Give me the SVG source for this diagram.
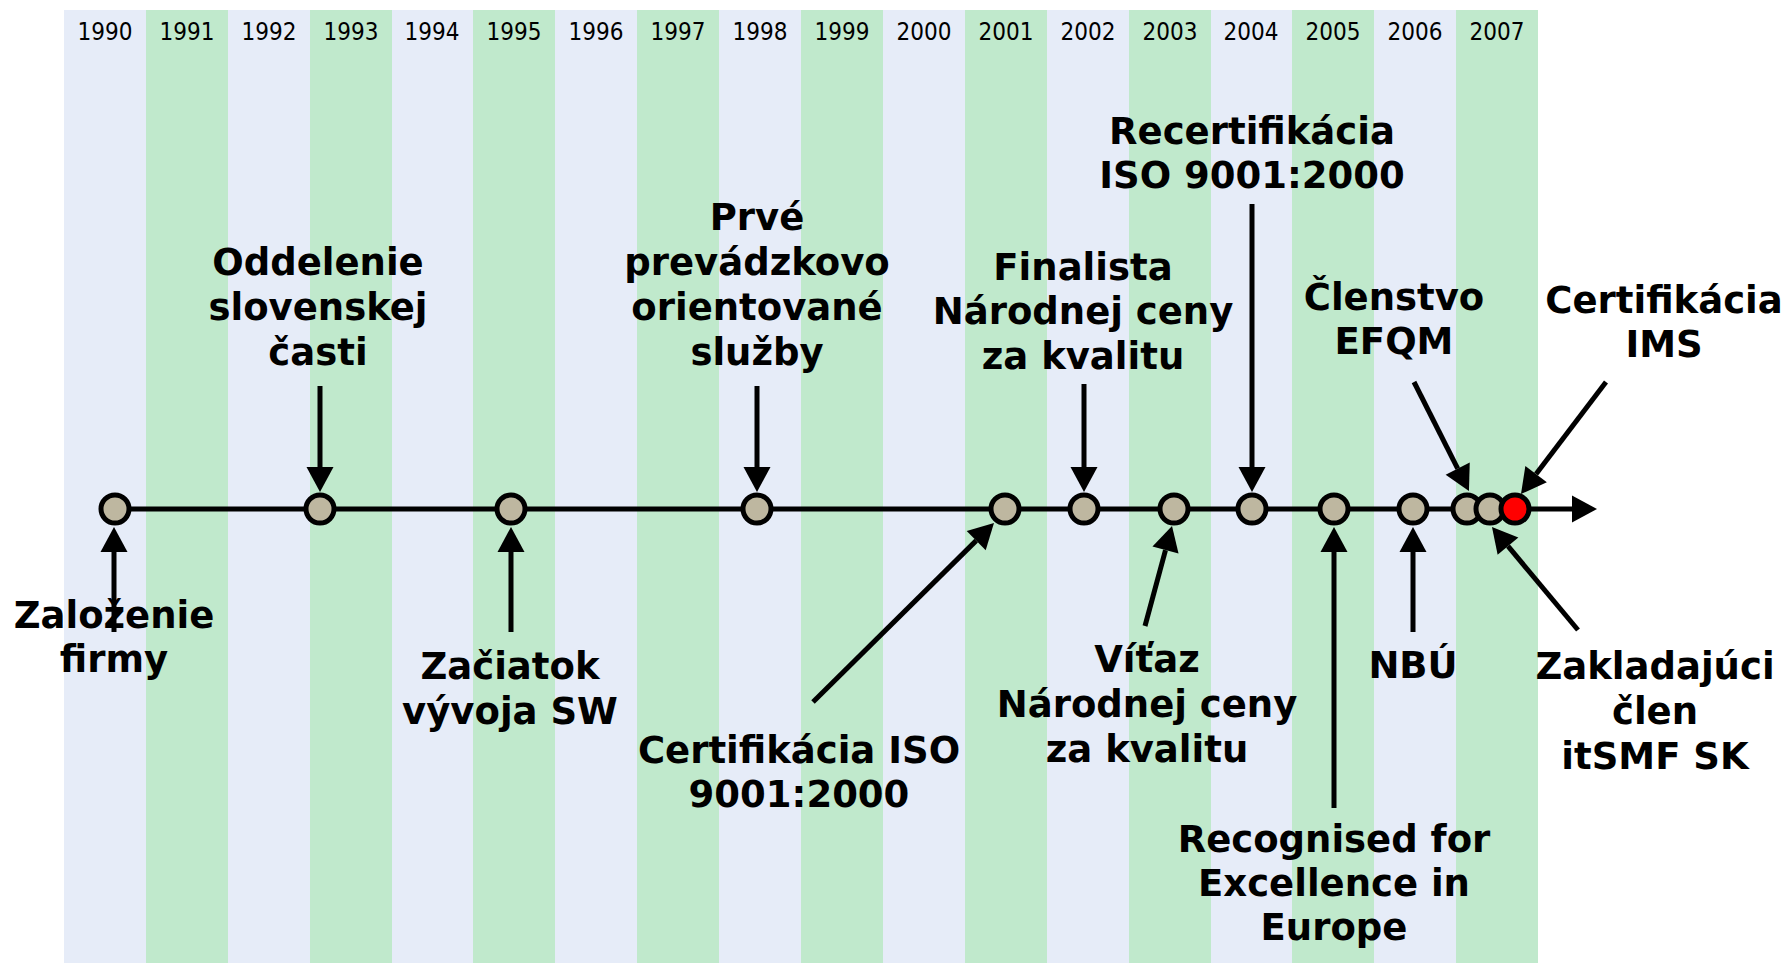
<svg xmlns="http://www.w3.org/2000/svg" width="1789" height="963" viewBox="0 0 1789 963">
<style>
.b{fill:#e6ecf8}
.g{fill:#c0e9cc}
.yr{font-family:"DejaVu Sans Condensed","DejaVu Sans",sans-serif;font-size:24px;fill:#000;text-anchor:middle}
.lbl{font-family:"DejaVu Sans",sans-serif;font-weight:bold;font-size:37px;fill:#000;text-anchor:middle}
.conn{stroke:#000;stroke-width:5;fill:none}
.node{fill:#beb7a0;stroke:#000;stroke-width:5}
.red{fill:#ff0000;stroke:#000;stroke-width:5}
</style>
<defs>
<marker id="ah" markerUnits="userSpaceOnUse" markerWidth="26" markerHeight="27" refX="0" refY="13.5" orient="auto" overflow="visible">
<path d="M0,0 L25,13.5 L0,27 z" fill="#000"/>
</marker>
</defs>
<g id="background">
<rect class="b" x="64" y="10" width="82" height="953"/>
<rect class="g" x="146" y="10" width="82" height="953"/>
<rect class="b" x="228" y="10" width="82" height="953"/>
<rect class="g" x="310" y="10" width="82" height="953"/>
<rect class="b" x="392" y="10" width="81" height="953"/>
<rect class="g" x="473" y="10" width="82" height="953"/>
<rect class="b" x="555" y="10" width="82" height="953"/>
<rect class="g" x="637" y="10" width="82" height="953"/>
<rect class="b" x="719" y="10" width="82" height="953"/>
<rect class="g" x="801" y="10" width="82" height="953"/>
<rect class="b" x="883" y="10" width="82" height="953"/>
<rect class="g" x="965" y="10" width="82" height="953"/>
<rect class="b" x="1047" y="10" width="82" height="953"/>
<rect class="g" x="1129" y="10" width="82" height="953"/>
<rect class="b" x="1211" y="10" width="81" height="953"/>
<rect class="g" x="1292" y="10" width="82" height="953"/>
<rect class="b" x="1374" y="10" width="82" height="953"/>
<rect class="g" x="1456" y="10" width="82" height="953"/>
</g>
<g id="years">
<text class="yr" x="105" y="40">1990</text>
<text class="yr" x="187" y="40">1991</text>
<text class="yr" x="269" y="40">1992</text>
<text class="yr" x="351" y="40">1993</text>
<text class="yr" x="432" y="40">1994</text>
<text class="yr" x="514" y="40">1995</text>
<text class="yr" x="596" y="40">1996</text>
<text class="yr" x="678" y="40">1997</text>
<text class="yr" x="760" y="40">1998</text>
<text class="yr" x="842" y="40">1999</text>
<text class="yr" x="924" y="40">2000</text>
<text class="yr" x="1006" y="40">2001</text>
<text class="yr" x="1088" y="40">2002</text>
<text class="yr" x="1170" y="40">2003</text>
<text class="yr" x="1251" y="40">2004</text>
<text class="yr" x="1333" y="40">2005</text>
<text class="yr" x="1415" y="40">2006</text>
<text class="yr" x="1497" y="40">2007</text>
</g>
<g id="connectors">
<line id="timeline" class="conn" x1="114" y1="509" x2="1572" y2="509" marker-end="url(#ah)"/>
<line class="conn" x1="114" y1="632" x2="114" y2="552" marker-end="url(#ah)"/>
<line class="conn" x1="320" y1="386" x2="320" y2="467" marker-end="url(#ah)"/>
<line class="conn" x1="511" y1="632" x2="511" y2="552" marker-end="url(#ah)"/>
<line class="conn" x1="757" y1="386" x2="757" y2="467" marker-end="url(#ah)"/>
<line class="conn" x1="813" y1="702" x2="976.2" y2="540.6" marker-end="url(#ah)"/>
<line class="conn" x1="1084" y1="384" x2="1084" y2="467" marker-end="url(#ah)"/>
<line class="conn" x1="1145" y1="626" x2="1165.5" y2="550.1" marker-end="url(#ah)"/>
<line class="conn" x1="1252" y1="204" x2="1252" y2="467" marker-end="url(#ah)"/>
<line class="conn" x1="1334" y1="808" x2="1334" y2="552" marker-end="url(#ah)"/>
<line class="conn" x1="1413" y1="632" x2="1413" y2="552" marker-end="url(#ah)"/>
<line class="conn" x1="1414" y1="382" x2="1457.7" y2="468.7" marker-end="url(#ah)"/>
<line class="conn" x1="1578" y1="630" x2="1508" y2="546.2" marker-end="url(#ah)"/>
<line class="conn" x1="1606" y1="382" x2="1536.1" y2="474.1" marker-end="url(#ah)"/>
</g>
<g id="n1990"><circle class="node" cx="115" cy="509" r="14"/>
<text class="lbl" x="114" y="628">Založenie</text><text class="lbl" x="114" y="672">firmy</text></g>
<g id="n1992"><circle class="node" cx="320" cy="509" r="14"/>
<text class="lbl" x="318" y="275">Oddelenie</text><text class="lbl" x="318" y="320">slovenskej</text><text class="lbl" x="318" y="365">časti</text></g>
<g id="n1995"><circle class="node" cx="511" cy="509" r="14"/>
<text class="lbl" x="510" y="679">Začiatok</text><text class="lbl" x="510" y="724">vývoja SW</text></g>
<g id="n1998"><circle class="node" cx="757" cy="509" r="14"/>
<text class="lbl" x="757" y="230">Prvé</text><text class="lbl" x="757" y="275">prevádzkovo</text><text class="lbl" x="757" y="320">orientované</text><text class="lbl" x="757" y="365">služby</text></g>
<g id="n2001"><circle class="node" cx="1005" cy="509" r="14"/>
<text class="lbl" x="799" y="763">Certifikácia ISO</text><text class="lbl" x="799" y="807">9001:2000</text></g>
<g id="n2002"><circle class="node" cx="1084" cy="509" r="14"/>
<text class="lbl" x="1083" y="280">Finalista</text><text class="lbl" x="1083" y="324">Národnej ceny</text><text class="lbl" x="1083" y="369">za kvalitu</text></g>
<g id="n2003"><circle class="node" cx="1174" cy="509" r="14"/>
<text class="lbl" x="1147" y="672">Víťaz</text><text class="lbl" x="1147" y="717">Národnej ceny</text><text class="lbl" x="1147" y="762">za kvalitu</text></g>
<g id="n2004"><circle class="node" cx="1252" cy="509" r="14"/>
<text class="lbl" x="1252" y="144">Recertifikácia</text><text class="lbl" x="1252" y="188">ISO 9001:2000</text></g>
<g id="n2005"><circle class="node" cx="1334" cy="509" r="14"/>
<text class="lbl" x="1334" y="852">Recognised for</text><text class="lbl" x="1334" y="896">Excellence in</text><text class="lbl" x="1334" y="940">Europe</text></g>
<g id="n2006"><circle class="node" cx="1413" cy="509" r="14"/>
<text class="lbl" x="1413" y="678">NBÚ</text></g>
<g id="n2007a"><circle class="node" cx="1467" cy="509" r="14"/>
<text class="lbl" x="1394" y="310">Členstvo</text><text class="lbl" x="1394" y="354">EFQM</text></g>
<g id="n2007b"><circle class="node" cx="1490" cy="509" r="14"/>
<text class="lbl" x="1655" y="679">Zakladajúci</text><text class="lbl" x="1655" y="724">člen</text><text class="lbl" x="1655" y="769">itSMF SK</text></g>
<g id="n2007c"><circle class="red" cx="1515" cy="509" r="14"/>
<text class="lbl" x="1664" y="313">Certifikácia</text><text class="lbl" x="1664" y="357">IMS</text></g>
</svg>
